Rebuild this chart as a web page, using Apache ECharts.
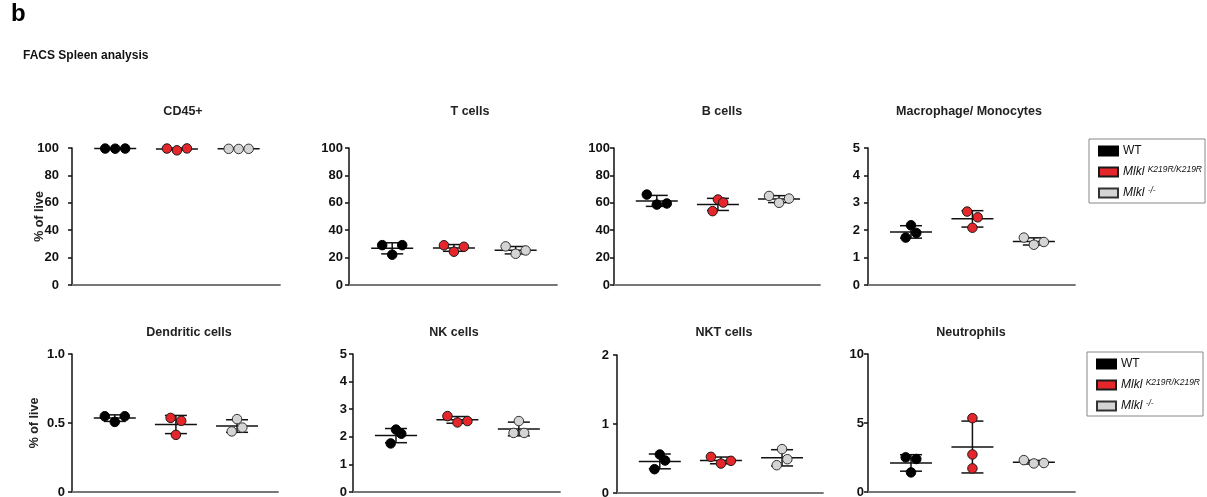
<!DOCTYPE html>
<html><head><meta charset="utf-8">
<script src="https://cdn.jsdelivr.net/npm/echarts@6/dist/echarts.min.js"></script>
<style>html,body{margin:0;padding:0;background:#fff}#c{width:1207px;height:497px}</style>
</head><body><div id="c"></div>
<script>
// ---------- data ----------
const groups = ['WT', 'Mlkl K219R/K219R', 'Mlkl -/-'];
const panelTitles = ['CD45+', 'T cells', 'B cells', 'Macrophage/ Monocytes',
                     'Dendritic cells', 'NK cells', 'NKT cells', 'Neutrophils'];
// each: [WT values], [K219R values], [KO values]  (% of live)
const cd45      = [[99.6, 99.5, 99.6], [99.6, 98.3, 99.7], [99.4, 99.3, 99.4]];
const tCells    = [[29.1, 22.1, 29.1], [29.0, 24.3, 27.9], [28.2, 22.8, 25.2]];
const bCells    = [[66.0, 58.7, 59.5], [53.9, 62.4, 60.2], [65.0, 60.0, 63.1]];
const macro     = [[1.73, 2.18, 1.90], [2.68, 2.09, 2.47], [1.73, 1.47, 1.57]];
const dendritic = [[0.549, 0.508, 0.549], [0.537, 0.414, 0.516], [0.439, 0.528, 0.467]];
const nkCells   = [[1.76, 2.26, 2.11], [2.75, 2.52, 2.57], [2.14, 2.57, 2.14]];
const nktCells  = [[0.345, 0.558, 0.471], [0.524, 0.427, 0.466], [0.403, 0.636, 0.490]];
const neutro    = [[2.51, 1.42, 2.39], [5.35, 2.72, 1.71], [2.31, 2.07, 2.10]];
const panelValues = [cd45, tCells, bCells, macro, dendritic, nkCells, nktCells, neutro];
const yMax  = [100, 100, 100, 5, 1, 5, 2, 10];
const yStep = [20, 20, 20, 1, 0.5, 1, 1, 5];
const yAxisName = '% of live';

// ---------- layout / style ----------
const FONT = 'Liberation Sans, Arial, Helvetica, sans-serif';
const layout = [
  {left: 72,  top: 148, width: 208, height: 137, tx: 183, ty: 112, lm: 13, ng: 26},
  {left: 349, top: 148, width: 208, height: 137, tx: 470, ty: 112, lm: 6},
  {left: 614, top: 148, width: 206, height: 137, tx: 722, ty: 112, lm: 4},
  {left: 868, top: 148, width: 207, height: 137, tx: 969, ty: 112, lm: 8},
  {left: 72,  top: 354, width: 206, height: 138, tx: 189, ty: 333, lm: 7, ng: 31},
  {left: 353, top: 354, width: 207, height: 138, tx: 454, ty: 333, lm: 6},
  {left: 617, top: 355, width: 206, height: 138, tx: 724, ty: 333, lm: 8},
  {left: 868, top: 354, width: 207, height: 138, tx: 971, ty: 333, lm: 4}
];
const X_MIN = 0.3, X_MAX = 3.67;
const fills   = ['#000000', '#e5262b', '#d4d4d4'];
const borders = ['#000000', '#1a1a1a', '#333333'];

function mean(a) { return a.reduce((s, v) => s + v, 0) / a.length; }
function sd(a) { const m = mean(a); return Math.sqrt(a.reduce((s, v) => s + (v - m) * (v - m), 0) / (a.length - 1)); }
// GraphPad-like horizontal spread (pixels) depending on vertical overlap
function spreadPx(vals, pxPerY) {
  const px = vals.map(v => v * pxPerY);
  let maxGap = 0, minGap = Infinity;
  for (let i = 0; i < px.length; i++) for (let j = i + 1; j < px.length; j++) {
    const g = Math.abs(px[i] - px[j]); maxGap = Math.max(maxGap, g); minGap = Math.min(minGap, g);
  }
  if (maxGap <= 10.8) return 10;
  if (minGap < 10) return 5.3;
  return 0;
}

const grid = [], xAxis = [], yAxis = [], series = [], graphic = [];
graphic.push({type: 'text', x: 11, y: 14, style: {text: 'b', font: 'bold 24px ' + FONT, fill: '#000', textAlign: 'left', textVerticalAlign: 'middle', align: 'left', verticalAlign: 'middle'}});
graphic.push({type: 'text', x: 23, y: 56, style: {text: 'FACS Spleen analysis', font: 'bold 12px ' + FONT, fill: '#111', textAlign: 'left', textVerticalAlign: 'middle', align: 'left', verticalAlign: 'middle'}});

panelValues.forEach((pv, p) => {
  const L = layout[p];
  grid.push({left: L.left, top: L.top, width: L.width, height: L.height, containLabel: false, outerBoundsMode: 'none'});
  xAxis.push({type: 'value', gridIndex: p, min: X_MIN, max: X_MAX, position: 'bottom',
    axisLine: {show: true, onZero: false, lineStyle: {color: '#777', width: 1.8}},
    axisTick: {show: false}, axisLabel: {show: false}, splitLine: {show: false}});
  const step = yStep[p];
  yAxis.push({type: 'value', gridIndex: p, min: 0, max: yMax[p], interval: step,
    name: L.ng ? yAxisName : '', nameLocation: 'middle', nameRotate: 90,
    nameGap: L.ng || 20, nameMoveOverlap: false,
    nameTextStyle: {fontFamily: FONT, fontWeight: 'bold', fontSize: 12.5, color: '#222'},
    axisLine: {show: true, lineStyle: {color: '#111', width: 1.5}},
    axisTick: {show: true, length: 4, lineStyle: {color: '#111', width: 1.5}},
    axisLabel: {fontFamily: FONT, fontWeight: 'bold', fontSize: 13, color: '#111', margin: L.lm,
      formatter: v => (step < 1 && v !== 0) ? v.toFixed(1) : String(v)},
    splitLine: {show: false}});
  graphic.push({type: 'text', x: L.tx, y: L.ty, style: {text: panelTitles[p], font: 'bold 12.5px ' + FONT, fill: '#222',
    textAlign: 'center', textVerticalAlign: 'middle', align: 'center', verticalAlign: 'middle'}});

  const pxPerX = L.width / (X_MAX - X_MIN);
  const pxPerY = L.height / yMax[p];
  const summary = [];
  pv.forEach((vals, g) => {
    const cx = g + 1;
    const s = spreadPx(vals, pxPerY);
    const pts = vals.map((v, i) => [cx + (i - 1) * s / pxPerX, v]);
    summary.push([cx, mean(vals), sd(vals)]);
    series.push({type: 'scatter', name: groups[g], xAxisIndex: p, yAxisIndex: p, data: pts,
      symbol: 'circle', symbolSize: 9.5, z: 4, silent: true,
      itemStyle: {color: fills[g], borderColor: borders[g], borderWidth: 1, opacity: 1}});
  });
  series.push({type: 'custom', xAxisIndex: p, yAxisIndex: p, data: summary, z: 2, silent: true,
    renderItem: (params, api) => {
      const x = api.value(0), m = api.value(1), d = api.value(2);
      const c = api.coord([x, m]), t = api.coord([x, m + d]), b = api.coord([x, m - d]);
      const st = {stroke: '#111', lineWidth: 1.5};
      return {type: 'group', children: [
        {type: 'line', shape: {x1: c[0] - 21, y1: c[1], x2: c[0] + 21, y2: c[1]}, style: st},
        {type: 'line', shape: {x1: c[0], y1: t[1], x2: c[0], y2: b[1]}, style: st},
        {type: 'line', shape: {x1: c[0] - 11, y1: t[1], x2: c[0] + 11, y2: t[1]}, style: st},
        {type: 'line', shape: {x1: c[0] - 11, y1: b[1], x2: c[0] + 11, y2: b[1]}, style: st}
      ]};
    }});
});

const legendBase = {
  data: groups, orient: 'vertical', icon: 'rect', itemWidth: 19, itemHeight: 9, itemGap: 7,
  padding: [5, 3, 3, 9], borderColor: '#888', borderWidth: 1, selectedMode: false,
  formatter: name => {
    const parts = name.split(' ');
    return parts.length > 1 ? '{it|' + parts[0] + ' }{sup|' + parts[1] + '}' : '{n|' + name + '}';
  },
  textStyle: {fontFamily: FONT, fontSize: 12, color: '#111', lineHeight: 14,
    rich: {
      n: {fontFamily: FONT, fontSize: 12, color: '#111', lineHeight: 14},
      it: {fontFamily: FONT, fontSize: 12, fontStyle: 'italic', color: '#111', lineHeight: 14},
      sup: {fontFamily: FONT, fontSize: 8.5, fontStyle: 'italic', color: '#111', lineHeight: 14, verticalAlign: 'top'}
    }}
};
const legend = [
  Object.assign({}, legendBase, {left: 1089, top: 139}),
  Object.assign({}, legendBase, {left: 1087, top: 352})
];

const chart = echarts.init(document.getElementById('c'), null, {renderer: 'canvas'});
chart.setOption({animation: false, backgroundColor: '#fff', grid, xAxis, yAxis, series, legend, graphic});
</script></body></html>
